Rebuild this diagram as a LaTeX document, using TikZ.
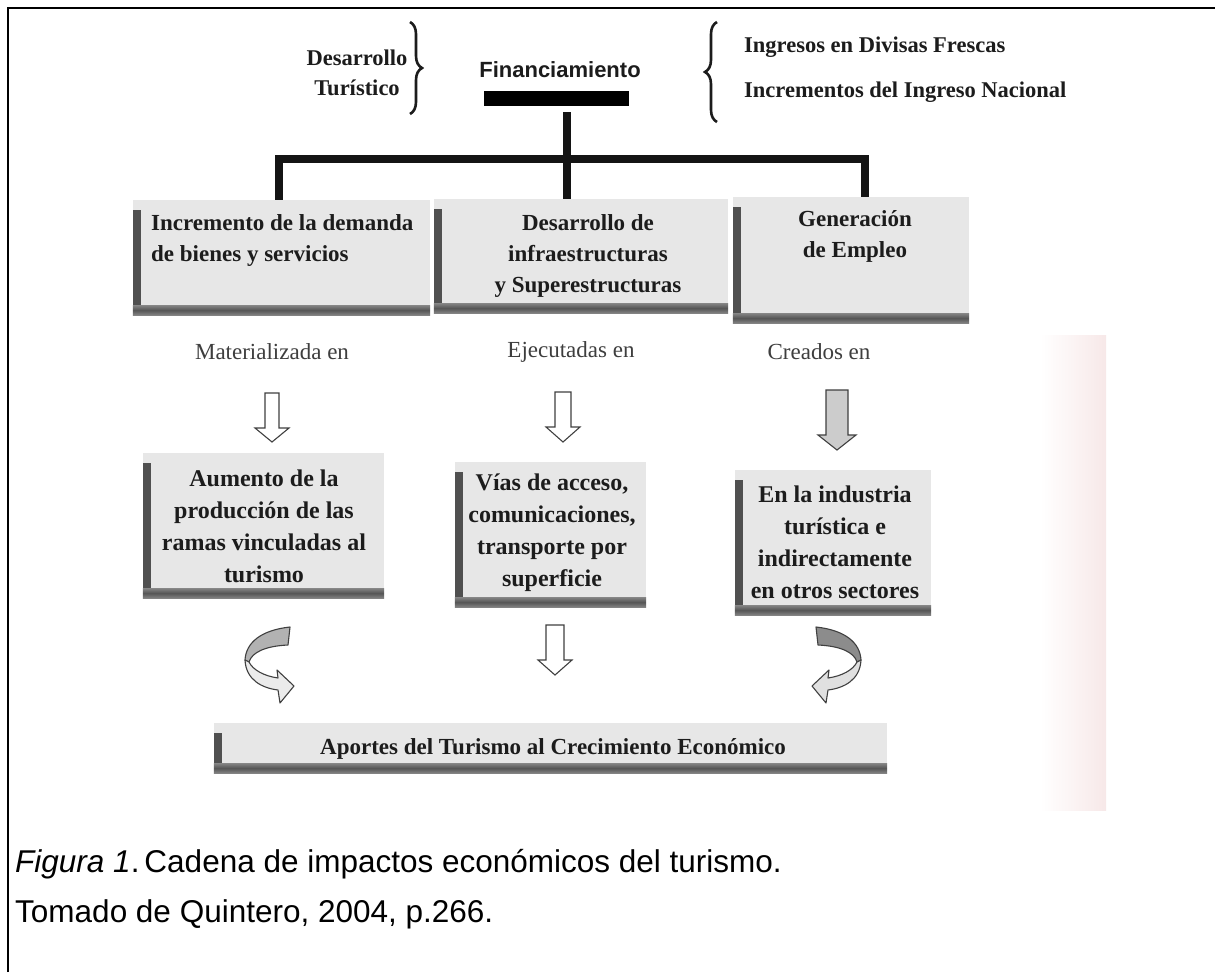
\documentclass[tikz,border=0pt]{standalone}
\usepackage{fontspec}
\setmainfont{Liberation Serif}
\setsansfont{Liberation Sans}
\usetikzlibrary{decorations.pathreplacing,calc}
\definecolor{txt}{HTML}{1C1C1C}
\definecolor{boxfill}{HTML}{E7E7E7}
\definecolor{edgeL}{HTML}{505050}
\definecolor{edgeM}{HTML}{555555}
\definecolor{edgeO}{HTML}{858585}
\definecolor{pinkish}{HTML}{F7E8E8}
\newcommand\panelDeco[1]{%
  \fill[edgeL] ([yshift=-10pt]#1.north west) rectangle ([xshift=8pt]#1.south west);
  \shade[top color=edgeO, bottom color=edgeO, middle color=edgeM] ([yshift=10pt]#1.south west) rectangle (#1.south east);}
\newcommand\dnArrow[7]{%
  \draw[#7] (#1-#5,#2) -- (#1+#5,#2) -- (#1+#5,#3) -- (#1+#6,#3) -- (#1,#4) -- (#1-#6,#3) -- (#1-#5,#3) -- cycle;}
\begin{document}
\begin{tikzpicture}[x=1pt,y=-1pt,
  conn/.style={line width=7.5pt, draw=black!92, line join=miter},
  panel/.style={fill=boxfill, inner sep=0pt, draw=none},
  btxt/.style={font=\bfseries\fontsize{23}{31}\selectfont, text=txt, inner sep=0pt, align=center},
  ctxt/.style={font=\bfseries\fontsize{24}{32}\selectfont, text=txt, inner sep=0pt, align=center},
  ltxt/.style={font=\fontsize{23}{28}\selectfont, text=txt!85, inner sep=0pt},
  ttxt/.style={font=\bfseries\fontsize{22.5}{30}\selectfont, text=txt, inner sep=0pt},
  brace/.style={decorate, decoration={brace, amplitude=12pt}, line width=2.6pt, draw=txt},
  hollow/.style={fill=white, draw=black!75, line width=1.1pt, line join=miter},
  greyarr/.style={fill=black!20, draw=black!75, line width=1.1pt, line join=miter},
  curvA/.style={draw=black!75, line width=1.1pt, line join=round},
]
\useasboundingbox (0,0) rectangle (1215,972);
\fill[white] (0,0) rectangle (1215,972);
% scan tint on the right
\shade[left color=white, right color=pinkish] (1040,335) rectangle (1106,810);
% frame
\draw[line width=2pt] (8,972) -- (8,8) -- (1215,8);

% top texts
\node[ttxt, align=center] (desa) at (357,73) {Desarrollo\\Turístico};
\draw[brace] (410,22) -- (410,114);
\node[font=\sffamily\bfseries\fontsize{22}{26}\selectfont, text=txt, inner sep=0pt] (fin) at (560,70) {Financiamiento};
\node[fill=black, minimum width=145pt, minimum height=15pt, inner sep=0pt] (bar) at (556.5,98.5) {};
\draw[brace] (717,122) -- (717,22);
\node[ttxt, anchor=west] (ing1) at (744,47) {Ingresos en Divisas Frescas};
\node[ttxt, anchor=west] (ing2) at (744,92) {Incrementos del Ingreso Nacional};

% row 1 panels
\node[panel, minimum width=297pt, minimum height=115pt] (b1) at (281.5,257.5) {};
\node[panel, minimum width=294pt, minimum height=114pt] (b2) at (581,256) {};
\node[panel, minimum width=236pt, minimum height=126pt] (b3) at (851,260) {};
\panelDeco{b1}\panelDeco{b2}\panelDeco{b3}

% tree connectors
\coordinate (j) at (567,159);
\coordinate (jl) at (279,159);
\coordinate (jr) at (865,159);
\draw[conn] ([yshift=-6pt]bar.south -| j) -- (j |- b2.north);
\draw[conn] (jl |- b1.north) -- (jl) -- (jr) -- (jr |- b3.north);

\node[btxt, align=left, anchor=west] (t1) at (151,240) {Incremento de la demanda\\de bienes y servicios};
\node[btxt] (t2) at (588,255.5) {Desarrollo de\\infraestructuras\\y Superestructuras};
\node[btxt] (t3) at (855,236) {Generación\\de Empleo};

% labels
\node[ltxt] (l1) at (272,352) {Materializada en};
\node[ltxt] (l2) at (571,352) {Ejecutadas en};
\node[ltxt] (l3) at (819,352) {Creados en};

% down arrows
\dnArrow{272}{393}{428}{442}{7}{17}{hollow}
\dnArrow{563}{392}{427}{442}{8}{17}{hollow}
\dnArrow{837}{390}{435}{450}{11}{19}{greyarr}

% row 2 panels
\node[panel, minimum width=241pt, minimum height=145pt] (b4) at (263.5,525.5) {};
\node[panel, minimum width=191pt, minimum height=145pt] (b5) at (550.5,534.5) {};
\node[panel, minimum width=196pt, minimum height=145pt] (b6) at (833,542.5) {};
\panelDeco{b4}\panelDeco{b5}\panelDeco{b6}
\node[ctxt] (t4) at (264,526) {Aumento de la\\producción de las\\ramas vinculadas al\\turismo};
\node[ctxt] (t5) at (552,533) {Vías de acceso,\\comunicaciones,\\transporte por\\superficie};
\node[ctxt] (t6) at (835,542) {En la industria\\turística e\\indirectamente\\en otros sectores};

% curved arrows
\begin{scope}[shift={(288,625)}]
  \filldraw[curvA, fill=black!30] (2,2) .. controls (-26,5) and (-42,17) .. (-43,35) -- (-39,37) .. controls (-36,27) and (-22,21) .. (0,20) -- cycle;
  \filldraw[curvA, fill=black!8] (-43,35) .. controls (-42,55) and (-26,63) .. (-10,65) -- (-8,78) -- (6,61) -- (-11,45) -- (-10,53) .. controls (-24,51) and (-35,45) .. (-39,37) -- cycle;
\end{scope}
\begin{scope}[shift={(818,625)}, xscale=-1]
  \filldraw[curvA, fill=black!45] (2,2) .. controls (-26,5) and (-42,17) .. (-43,35) -- (-39,37) .. controls (-36,27) and (-22,21) .. (0,20) -- cycle;
  \filldraw[curvA, fill=black!12] (-43,35) .. controls (-42,55) and (-26,63) .. (-10,65) -- (-8,78) -- (6,61) -- (-11,45) -- (-10,53) .. controls (-24,51) and (-35,45) .. (-39,37) -- cycle;
\end{scope}
\dnArrow{555}{625}{660}{675}{9}{17}{hollow}

% bottom panel
\node[panel, minimum width=673pt, minimum height=50pt] (b7) at (550.5,748) {};
\panelDeco{b7}
\node[btxt] (t7) at (553,749) {Aportes del Turismo al Crecimiento Económico};

% caption
\node[anchor=base west, font=\sffamily\fontsize{31.5}{36}\selectfont, inner sep=0pt, text=black] (cap) at (15,872) {\textit{Figura 1}.\hspace{5pt}Cadena de impactos económicos del turismo.};
\node[anchor=base west, font=\sffamily\fontsize{31.5}{36}\selectfont, inner sep=0pt, text=black] (src) at (15,922) {Tomado de Quintero, 2004, p.266.};
\end{tikzpicture}
\end{document}
